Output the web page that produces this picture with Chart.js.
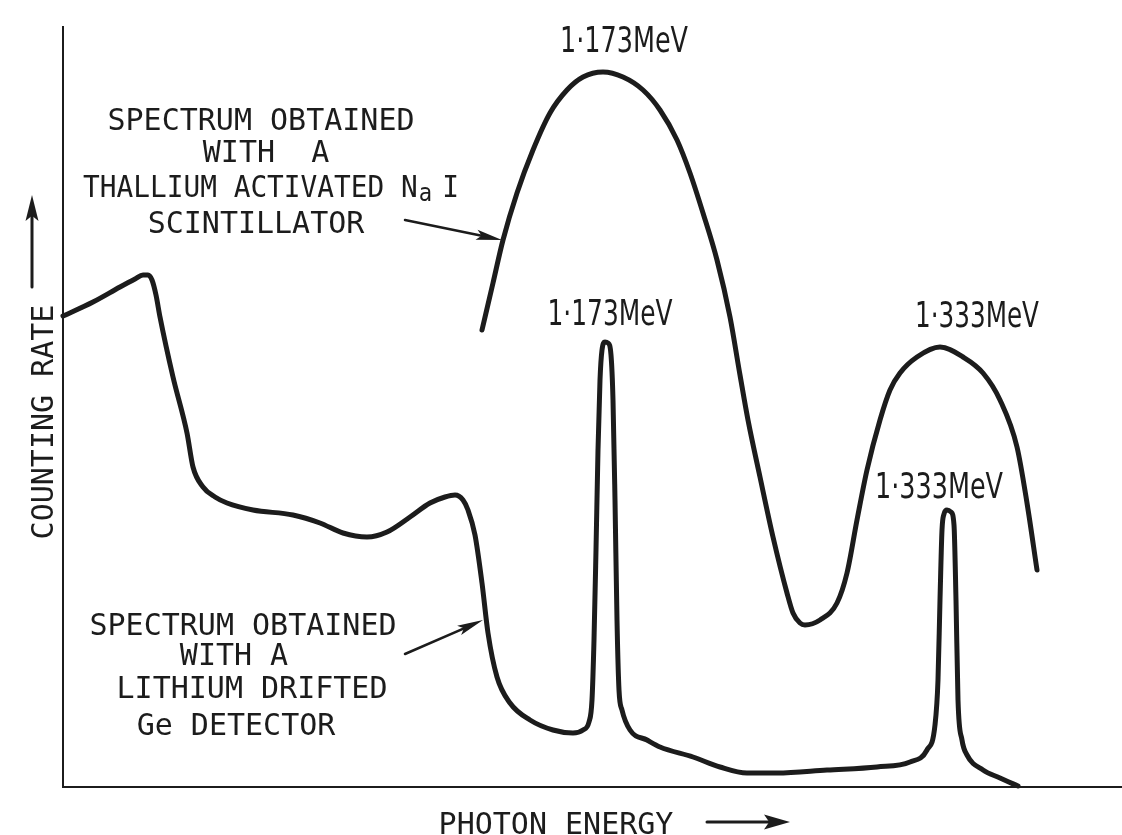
<!DOCTYPE html>
<html>
<head>
<meta charset="utf-8">
<script src="https://cdn.jsdelivr.net/npm/chart.js@4/dist/chart.umd.min.js"></script>
<style>
html,body{margin:0;padding:0;background:#fff;}
canvas{display:block;}
</style>
</head>
<body>
<canvas id="c" width="1122" height="835"></canvas>
<script>
// ---- data (photon energy in channels, counting rate in arbitrary units) ----
const geEnergy = [0,30,57,72,80,85,89,93,97,110,124,130,140,152,164,190,230,257,280,304,324,347,367,382,392,400,405,412,419,425,434,447,467,490,510,520,526,529,531,533,535,537,539,542,545,548,550,552,554,556,559,567,584,597,630,657,684,714,764,814,847,864,872,875,877,879,881,884,888,891,893,895,899,904,920,937,955];
const geCounts = [471,485,500,508,512,512,507,492,470,410,354,320,300,290,284,277,272,264,254,250,255,270,284,290,292,287,277,252,204,154,110,84,67,57,54,57,65,87,147,237,337,407,437,445,444,432,387,287,167,97,77,57,47,40,30,20,14,14,17,20,25,37,62,107,187,257,273,277,275,262,187,87,47,32,17,9,1];

const naiEnergy = [419,430,440,454,470,487,504,520,540,560,580,597,614,627,640,654,667,677,685,697,710,724,730,737,742,757,774,784,794,804,817,827,837,854,877,900,920,937,954,964,974];
const naiCounts = [457,504,547,594,637,674,697,710,715,710,697,677,647,614,574,527,470,412,367,310,250,194,174,164,162,167,184,214,267,317,367,397,414,430,440,430,414,387,340,284,217];

const peakLabels = ['1·173MeV', '1·173MeV', '1·333MeV', '1·333MeV'];
const naiCaption = ['SPECTRUM OBTAINED', 'WITH  A', 'THALLIUM ACTIVATED N', 'SCINTILLATOR'];
const geCaption  = ['SPECTRUM OBTAINED', 'WITH A', 'LITHIUM DRIFTED', 'Ge DETECTOR'];
const xTitle = 'PHOTON ENERGY';
const yTitle = 'COUNTING RATE';

const energyRange = [0, 1059];
const countRange = [0, 760];

// ---- layout of annotations (anchor points in data units) ----
const layout = {
  peaks: [[561,735],[547,462],[914,460],[876,289]],
  peakWidth: [128,125,124,128],
  naiLines: [[198,657],[203,625],[208,590],[193,554]],
  geLines: [[180,152],[171,122],[189,89],[173,52]],
  naiArrow: [[342,567],[439,547]],
  geArrow: [[342,133],[420,167]]
};

const INK = '#1c1c1c';
const MONO = '30px "DejaVu Sans Mono", "Liberation Mono", monospace';
const NARROW = '"Liberation Sans Narrow", "DejaVu Sans Condensed", "Roboto Condensed", sans-serif';

function pts(xs, ys){ return xs.map((v,i)=>({x:v, y:ys[i]})); }

function fitText(ctx, s, cx, base, font, width){
  ctx.save();
  ctx.font = font;
  ctx.textAlign = 'left';
  ctx.textBaseline = 'alphabetic';
  const m = ctx.measureText(s).width;
  const k = width ? width / m : 1;
  ctx.translate(cx - m*k/2, base);
  ctx.scale(k, 1);
  ctx.fillText(s, 0, 0);
  ctx.restore();
}

function arrow(ctx, x1, y1, x2, y2, hl, hw, lw){
  const a = Math.atan2(y2-y1, x2-x1), c = Math.cos(a), s = Math.sin(a);
  ctx.save();
  ctx.strokeStyle = INK; ctx.fillStyle = INK; ctx.lineWidth = lw; ctx.lineCap = 'round';
  ctx.beginPath(); ctx.moveTo(x1,y1); ctx.lineTo(x2 - hl*0.7*c, y2 - hl*0.7*s); ctx.stroke();
  ctx.beginPath();
  ctx.moveTo(x2, y2);
  ctx.lineTo(x2 - hl*c + hw/2*s, y2 - hl*s - hw/2*c);
  ctx.lineTo(x2 - hl*0.8*c, y2 - hl*0.8*s);
  ctx.lineTo(x2 - hl*c - hw/2*s, y2 - hl*s + hw/2*c);
  ctx.closePath(); ctx.fill();
  ctx.restore();
}

const annotations = {
  id: 'annotations',
  afterDraw(chart){
    const {ctx, chartArea} = chart;
    const X = chart.scales.x, Y = chart.scales.y;
    const px = v => X.getPixelForValue(v), py = v => Y.getPixelForValue(v);
    ctx.save();
    ctx.fillStyle = INK;

    // peak energy labels
    peakLabels.forEach((t,i)=>{
      const [ex, ey] = layout.peaks[i];
      fitText(ctx, t, px(ex), py(ey), '36px ' + NARROW, layout.peakWidth[i]);
    });

    // NaI caption
    naiCaption.forEach((t,i)=>{
      const [ex, ey] = layout.naiLines[i];
      if (i === 2) {
        // "THALLIUM ACTIVATED N" + subscript a + "I"
        ctx.font = MONO;
        const w1 = ctx.measureText(t).width;
        ctx.font = '24px "DejaVu Sans Mono", monospace';
        const w2 = ctx.measureText('a').width;
        ctx.font = MONO;
        const w3 = ctx.measureText('I').width;
        const gap = 12;
        const total = w1 + w2 + gap + w3;
        const target = 376, k = target/total;
        ctx.save();
        ctx.translate(px(ex) - target/2, py(ey));
        ctx.scale(k, 1);
        ctx.textAlign = 'left'; ctx.textBaseline = 'alphabetic';
        ctx.font = MONO; ctx.fillText(t, 0, 0);
        ctx.font = '24px "DejaVu Sans Mono", monospace'; ctx.fillText('a', w1 + 1, 4);
        ctx.font = MONO; ctx.fillText('I', w1 + w2 + gap, 0);
        ctx.restore();
      } else {
        fitText(ctx, t, px(ex), py(ey), MONO);
      }
    });

    // Ge caption
    geCaption.forEach((t,i)=>{
      const [ex, ey] = layout.geLines[i];
      fitText(ctx, t, px(ex), py(ey), MONO);
    });

    // pointer arrows
    const na = layout.naiArrow, ga = layout.geArrow;
    arrow(ctx, px(na[0][0]), py(na[0][1]), px(na[1][0]), py(na[1][1]), 26, 10, 2.5);
    arrow(ctx, px(ga[0][0]), py(ga[0][1]), px(ga[1][0]), py(ga[1][1]), 26, 10, 2.5);

    // axis titles with arrows
    const xt = chartArea.left + 493, yb = chartArea.bottom + 47;
    fitText(ctx, xTitle, xt, yb, MONO);
    arrow(ctx, chartArea.left + 644, chartArea.bottom + 35, chartArea.left + 727, chartArea.bottom + 35, 26, 15, 3);

    ctx.save();
    ctx.translate(chartArea.left - 21, chartArea.top + 395);
    ctx.rotate(-Math.PI/2);
    ctx.font = MONO; ctx.textAlign = 'center'; ctx.textBaseline = 'alphabetic';
    ctx.fillText(yTitle, 0, 11);
    ctx.restore();
    arrow(ctx, chartArea.left - 31, chartArea.top + 260, chartArea.left - 31, chartArea.top + 168, 26, 13, 3);

    ctx.restore();
  }
};

new Chart(document.getElementById('c'), {
  type: 'line',
  data: {
    datasets: [
      { label: 'Ge(Li) detector', data: pts(geEnergy, geCounts) },
      { label: 'NaI(Tl) scintillator', data: pts(naiEnergy, naiCounts) }
    ]
  },
  options: {
    responsive: false,
    devicePixelRatio: 1,
    animation: false,
    layout: { padding: { left: 63, right: 0, top: 27, bottom: 48 } },
    elements: {
      point: { radius: 0, hoverRadius: 0 },
      line: { borderColor: INK, borderWidth: 5, cubicInterpolationMode: 'monotone', borderCapStyle: 'round', borderJoinStyle: 'round', fill: false }
    },
    datasets: { line: { clip: false } },
    plugins: { legend: { display: false }, tooltip: { enabled: false } },
    scales: {
      x: {
        type: 'linear', min: energyRange[0], max: energyRange[1],
        grid: { display: false, drawTicks: false },
        ticks: { display: false },
        border: { display: true, color: INK, width: 2 }
      },
      y: {
        type: 'linear', min: countRange[0], max: countRange[1],
        grid: { display: false, drawTicks: false },
        ticks: { display: false },
        border: { display: true, color: INK, width: 2 }
      }
    }
  },
  plugins: [annotations]
});
</script>
</body>
</html>
